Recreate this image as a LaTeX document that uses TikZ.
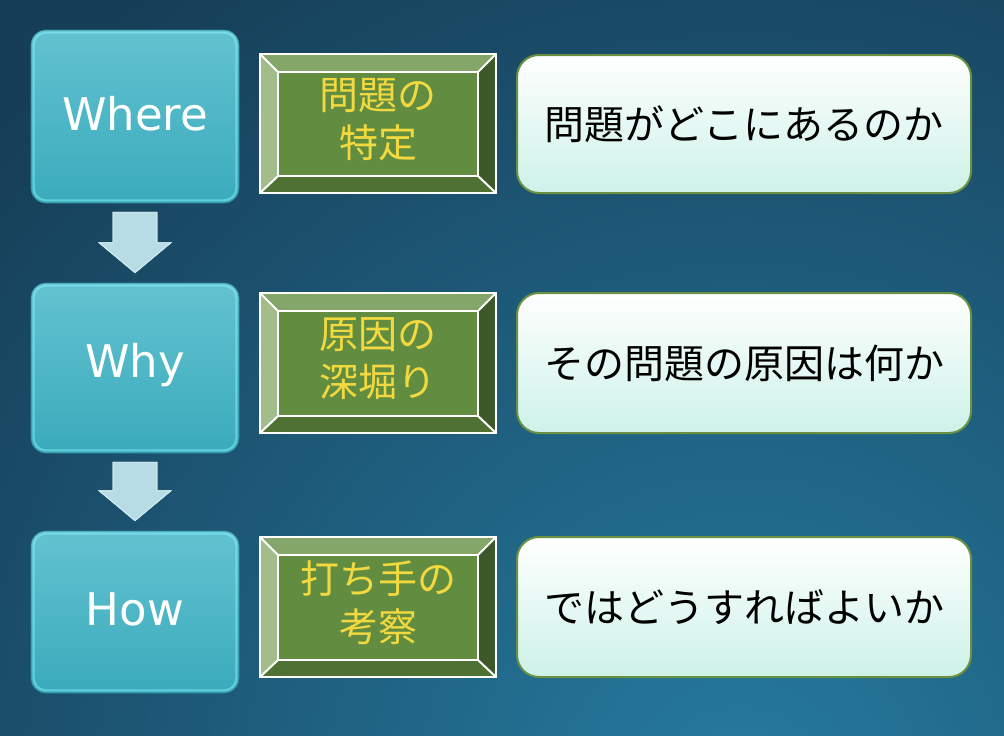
\documentclass[tikz,border=0pt]{standalone}
\usepackage{fontspec}
\usetikzlibrary{calc}
\newfontfamily\jpfont{Noto Sans CJK JP}
\newfontfamily\latfont{DejaVu Sans}
\definecolor{bgtop}{HTML}{163E57}
\definecolor{bglight}{HTML}{267BA0}
\definecolor{bltop}{HTML}{63C2D0}
\definecolor{blbot}{HTML}{3AABBC}
\definecolor{blrim}{HTML}{8EF2FF}
\definecolor{arrowc}{HTML}{B7DCE3}
\definecolor{arrowe}{HTML}{D3ECF1}
\definecolor{bvtop}{HTML}{84A769}
\definecolor{bvleft}{HTML}{A3BD8A}
\definecolor{bvright}{HTML}{3D5829}
\definecolor{bvbot}{HTML}{4F7234}
\definecolor{bvmid}{HTML}{628D40}
\definecolor{yel}{HTML}{F2D93F}
\definecolor{wbord}{HTML}{6A9141}
\definecolor{wbot}{HTML}{CDF2E8}
\tikzset{
  bluebox/.style={rounded corners=15pt, minimum width=208pt, top color=bltop, bottom color=blbot, draw=blbot!80!black, line width=0.6pt, inner sep=0pt},
  bluetext/.style={text=white, font=\latfont\fontsize{45}{52}\selectfont, inner sep=0pt},
  bluerim/.style={rounded corners=12pt, draw=blrim, line width=2pt, opacity=0.5},
  bevel/.style={minimum width=236pt, minimum height=140pt, inner sep=0pt, fill=bvmid},
  bevtext/.style={text=yel, font=\jpfont\fontsize{39}{48}\selectfont, align=center, inner sep=0pt},
  bevline/.style={draw=white, line width=2pt},
  whitebox/.style={rounded corners=22pt, minimum width=454pt, top color=white, bottom color=wbot, draw=wbord, line width=2pt, font=\jpfont\fontsize{40}{48}\selectfont, text=black, inner sep=0pt},
  blockarrow/.style={fill=arrowc, draw=arrowe, line width=0.8pt, line join=miter},
}
\newcommand\mybevel[4]{% name, center, height, text
  \node[bevel, minimum height=#3] (#1) at (#2) {};
  \fill[bvtop] (#1.north west) -- (#1.north east) -- ($(#1.north east)+(-18,18)$) -- ($(#1.north west)+(18,18)$) -- cycle;
  \fill[bvbot] (#1.south west) -- (#1.south east) -- ($(#1.south east)+(-18,-17)$) -- ($(#1.south west)+(18,-17)$) -- cycle;
  \fill[bvleft] (#1.north west) -- ($(#1.north west)+(18,18)$) -- ($(#1.south west)+(18,-17)$) -- (#1.south west) -- cycle;
  \fill[bvright] (#1.north east) -- ($(#1.north east)+(-18,18)$) -- ($(#1.south east)+(-18,-17)$) -- (#1.south east) -- cycle;
  \draw[bevline] (#1.north west) rectangle (#1.south east);
  \draw[bevline] ($(#1.north west)+(18,18)$) rectangle ($(#1.south east)+(-18,-17)$);
  \draw[bevline] (#1.north west) -- ($(#1.north west)+(18,18)$);
  \draw[bevline] (#1.north east) -- ($(#1.north east)+(-18,18)$);
  \draw[bevline] (#1.south west) -- ($(#1.south west)+(18,-17)$);
  \draw[bevline] (#1.south east) -- ($(#1.south east)+(-18,-17)$);
  \node[bevtext] (#1t) at ($(#1.center)+(0,-4)$) {#4};
}
\newcommand\myblockarrow[2]{% from node, to node
  \coordinate (#1a) at ($(#1.south)+(0,9)$);
  \coordinate (#1b) at ($(#2.north)+(0,-10)$);
  \fill[blockarrow] ($(#1a)+(-22,0)$) -- ($(#1a)+(22,0)$) -- ($(#1b)+(22,-30)$) -- ($(#1b)+(36,-30)$) -- (#1b) -- ($(#1b)+(-36,-30)$) -- ($(#1b)+(-22,-30)$) -- cycle;
  \draw[blockarrow, fill=none] ($(#1a)+(-22,0)$) -- ($(#1a)+(22,0)$) -- ($(#1b)+(22,-30)$) -- ($(#1b)+(36,-30)$) -- (#1b) -- ($(#1b)+(-36,-30)$) -- ($(#1b)+(-22,-30)$) -- cycle;
}
\begin{document}
\begin{tikzpicture}[x=1pt, y=-1pt]
\useasboundingbox (0,0) rectangle (1004,736);
\fill[bgtop] (0,0) rectangle (1004,736);
\begin{scope}
  \clip (0,0) rectangle (1004,736);
  \path[inner color=bglight, outer color=bgtop] (740,800) circle (1000);
\end{scope}
% blue boxes
\node[bluebox, minimum height=173pt] (where) at (135,116.5) {};
\node[bluebox, minimum height=170pt] (why) at (135,368) {};
\node[bluebox, minimum height=162pt] (how) at (135,612) {};
\foreach \n in {where,why,how}{
  \draw[bluerim] ($(\n.north west)+(3,3)$) rectangle ($(\n.south east)+(-3,-3)$);
}
\node[bluetext] (wheret) at ($(where.center)+(0,-3)$) {Where};
\node[bluetext] (whyt) at ($(why.center)+(0,-3)$) {Why};
\node[bluetext] (howt) at ($(how.center)+(0,-3)$) {How};
% arrows
\myblockarrow{where}{why}
\myblockarrow{why}{how}
% bevel boxes
\mybevel{b1}{378,123.5}{139pt}{問題の\\特定}
\mybevel{b2}{378,363}{140pt}{原因の\\深堀り}
\mybevel{b3}{378,607}{140pt}{打ち手の\\考察}
% white boxes
\node[whitebox, minimum height=138pt] (w1) at (744,124) {問題がどこにあるのか};
\node[whitebox, minimum height=140pt] (w2) at (744,363) {その問題の原因は何か};
\node[whitebox, minimum height=140pt] (w3) at (744,607) {ではどうすればよいか};
\end{tikzpicture}
\end{document}
